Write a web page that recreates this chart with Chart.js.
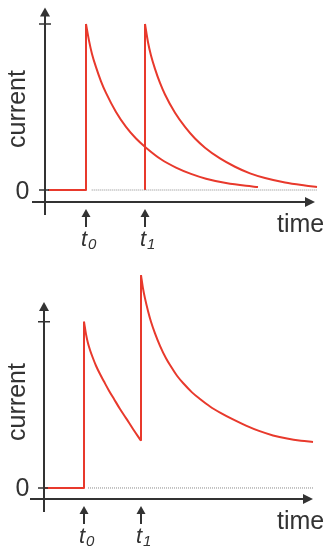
<!DOCTYPE html>
<html>
<head>
<meta charset="utf-8">
<script src="https://cdn.jsdelivr.net/npm/chart.js@4/dist/chart.umd.min.js"></script>
<style>
  html, body { margin: 0; padding: 0; background: #fff; }
  #wrap { position: relative; width: 329px; height: 550px; overflow: hidden; }
  canvas { position: absolute; left: 0; }
  #top { top: 0; }
  #bottom { top: 270px; }
</style>
</head>
<body>
<div id="wrap">
  <canvas id="top" width="329" height="270"></canvas>
  <canvas id="bottom" width="329" height="280"></canvas>
</div>
<script>
// ---- Upper panel: two separate pulses, each decays back to zero ----
const topStimTimes = [41, 100];
const topStartTime = 3;
const topEndTime = 272;
const topPeaks = [1.0, 1.0];
const topDecay0Dt = [0, 3, 6, 10, 15, 20, 30, 40, 50, 60, 75, 90, 105, 120, 140, 160, 172];
const topDecay0 = [1.00, 0.90, 0.82, 0.74, 0.655, 0.585, 0.47, 0.38, 0.31, 0.255, 0.185, 0.135, 0.097, 0.068, 0.042, 0.025, 0.018];
const topDecay1Dt = [0, 3, 6, 10, 15, 20, 30, 40, 50, 60, 75, 90, 105, 120, 140, 160, 172];
const topDecay1 = [1.00, 0.89, 0.81, 0.73, 0.645, 0.575, 0.465, 0.38, 0.31, 0.255, 0.19, 0.14, 0.10, 0.072, 0.045, 0.027, 0.018];

// ---- Lower panel: second pulse arrives before the first has decayed ----
const botStimTimes = [40, 97];
const botStartTime = 1;
const botEndTime = 269;
const botDecay0Dt = [0, 2, 4, 6, 9, 12, 16, 20, 25, 30, 36, 42, 49, 57];
const botDecay0 = [1.00, 0.925, 0.87, 0.83, 0.78, 0.735, 0.685, 0.64, 0.585, 0.535, 0.475, 0.42, 0.355, 0.284];
const botDecay1Dt = [0, 2, 4, 7, 10, 14, 19, 25, 30, 36, 43, 51, 59, 69, 80, 92, 105, 118, 132, 146, 160, 172];
const botDecay1 = [1.28, 1.20, 1.14, 1.065, 1.00, 0.93, 0.855, 0.78, 0.73, 0.675, 0.625, 0.575, 0.535, 0.49, 0.45, 0.412, 0.375, 0.343, 0.316, 0.297, 0.284, 0.277];

const RED = '#e8392c';
const INK = '#333333';
const FONT = '"Liberation Sans", Arial, Helvetica, sans-serif';

function decayPoints(t0, dts, vals) {
  return dts.map((d, i) => ({ x: t0 + d, y: vals[i] }));
}

function redLine(points, curved) {
  return {
    data: points,
    borderColor: RED,
    borderWidth: 2,
    pointRadius: 0,
    fill: false,
    clip: false,
    tension: curved ? 0.4 : 0,
    cubicInterpolationMode: curved ? 'monotone' : 'default',
    borderJoinStyle: 'round',
    borderCapStyle: 'butt'
  };
}

function dottedLine(x0, x1) {
  return {
    data: [{ x: x0, y: 0 }, { x: x1, y: 0 }],
    borderColor: '#8a8a8a',
    borderWidth: 1,
    borderDash: [1, 1],
    pointRadius: 0,
    fill: false,
    clip: false,
    tension: 0
  };
}

function upArrow(ctx, x, tipY, baseY, headH, halfW) {
  ctx.beginPath();
  ctx.moveTo(x, baseY);
  ctx.lineTo(x, tipY + headH - 1);
  ctx.stroke();
  ctx.beginPath();
  ctx.moveTo(x, tipY);
  ctx.lineTo(x - halfW, tipY + headH);
  ctx.lineTo(x + halfW, tipY + headH);
  ctx.closePath();
  ctx.fill();
}

function rightArrow(ctx, y, x0, tipX, headW, halfH) {
  ctx.beginPath();
  ctx.moveTo(x0, y);
  ctx.lineTo(tipX - headW + 1, y);
  ctx.stroke();
  ctx.beginPath();
  ctx.moveTo(tipX, y);
  ctx.lineTo(tipX - headW, y - halfH);
  ctx.lineTo(tipX - headW, y + halfH);
  ctx.closePath();
  ctx.fill();
}

// Axes with arrowheads, the stimulus markers and all labels
function axesDecor(cfg) {
  return {
    id: 'axesDecor',
    afterDatasetsDraw(chart) {
      const ctx = chart.ctx;
      const xs = chart.scales.x, ys = chart.scales.y;
      const ax = xs.getPixelForValue(0);
      const axisY = ys.getPixelForValue(cfg.xAxisAt);
      const zeroY = ys.getPixelForValue(0);
      const oneY = ys.getPixelForValue(1);
      ctx.save();
      ctx.strokeStyle = INK;
      ctx.fillStyle = INK;
      ctx.lineWidth = 2;
      ctx.lineCap = 'butt';

      // vertical axis
      upArrow(ctx, ax, ys.getPixelForValue(cfg.yTop), ys.getPixelForValue(cfg.yBottom), 9, 5);
      // horizontal axis
      rightArrow(ctx, axisY, xs.getPixelForValue(cfg.xLeft), xs.getPixelForValue(cfg.xTip), 10, 5);

      // ticks at 0 and at the unit level
      ctx.lineWidth = 1.5;
      ctx.beginPath();
      ctx.moveTo(ax - 6, zeroY); ctx.lineTo(ax + 4, zeroY);
      ctx.moveTo(ax - 6, oneY); ctx.lineTo(ax + 6, oneY);
      ctx.stroke();

      // stimulus markers
      ctx.lineWidth = 2;
      cfg.stim.forEach(t => {
        const px = xs.getPixelForValue(t);
        upArrow(ctx, px, axisY + 7, axisY + 25, 8, 4.5);
      });

      // stimulus labels t0, t1
      cfg.stim.forEach((t, i) => {
        const px = xs.getPixelForValue(t);
        ctx.textAlign = 'left';
        ctx.textBaseline = 'alphabetic';
        ctx.font = 'italic 22px ' + FONT;
        ctx.fillText('t', px - 5, axisY + 44);
        ctx.font = 'italic 15px ' + FONT;
        ctx.fillText(String(i), px + 2, axisY + 47);
      });

      // "0" level label
      ctx.font = '25px ' + FONT;
      ctx.textAlign = 'center';
      ctx.fillText('0', 22.5, zeroY + 8.5);

      // axis titles
      ctx.textAlign = 'left';
      ctx.fillText('time', 277, axisY + 30);
      ctx.save();
      ctx.translate(25, cfg.yTitleY);
      ctx.rotate(-Math.PI / 2);
      ctx.textAlign = 'center';
      ctx.fillText('current', 0, 0);
      ctx.restore();

      ctx.restore();
    }
  };
}

function baseOptions(pad, xMax, yMin, yMax) {
  return {
    responsive: false,
    animation: false,
    events: [],
    layout: { padding: pad },
    plugins: { legend: { display: false }, tooltip: { enabled: false } },
    scales: {
      x: { type: 'linear', min: 0, max: xMax, display: false },
      y: { type: 'linear', min: yMin, max: yMax, display: false }
    }
  };
}

// upper chart
new Chart(document.getElementById('top'), {
  type: 'line',
  data: {
    datasets: [
      dottedLine(topStimTimes[0] + 5.7, topEndTime),
      redLine([{ x: topStartTime, y: 0 }, { x: topStimTimes[0], y: 0 }, { x: topStimTimes[0], y: topPeaks[0] }], false),
      redLine(decayPoints(topStimTimes[0], topDecay0Dt, topDecay0), true),
      redLine([{ x: topStimTimes[1], y: 0 }, { x: topStimTimes[1], y: topPeaks[1] }], false),
      redLine(decayPoints(topStimTimes[1], topDecay1Dt, topDecay1), true)
    ]
  },
  options: baseOptions({ left: 45, right: 14, top: 7.4, bottom: 63.4 }, 270, -0.1, 1.1),
  plugins: [axesDecor({
    stim: topStimTimes, xAxisAt: -0.072, yTop: 1.1, yBottom: -0.15,
    xLeft: -13, xTip: 270, yTitleY: 109
  })]
});

// lower chart
new Chart(document.getElementById('bottom'), {
  type: 'line',
  data: {
    datasets: [
      dottedLine(botStimTimes[0] + 4, botEndTime),
      redLine([{ x: botStartTime, y: 0 }, { x: botStimTimes[0], y: 0 }, { x: botStimTimes[0], y: botDecay0[0] }], false),
      redLine(decayPoints(botStimTimes[0], botDecay0Dt, botDecay0), true),
      redLine([{ x: botStimTimes[1], y: botDecay0[botDecay0.length - 1] }, { x: botStimTimes[1], y: botDecay1[0] }], false),
      redLine(decayPoints(botStimTimes[1], botDecay1Dt, botDecay1), true)
    ]
  },
  options: baseOptions({ left: 44, right: 15, top: 1.8, bottom: 45.4 }, 270, -0.1, 1.3),
  plugins: [axesDecor({
    stim: botStimTimes, xAxisAt: -0.066, yTop: 1.118, yBottom: -0.144,
    xLeft: -14, xTip: 269, yTitleY: 132
  })]
});
</script>
</body>
</html>
